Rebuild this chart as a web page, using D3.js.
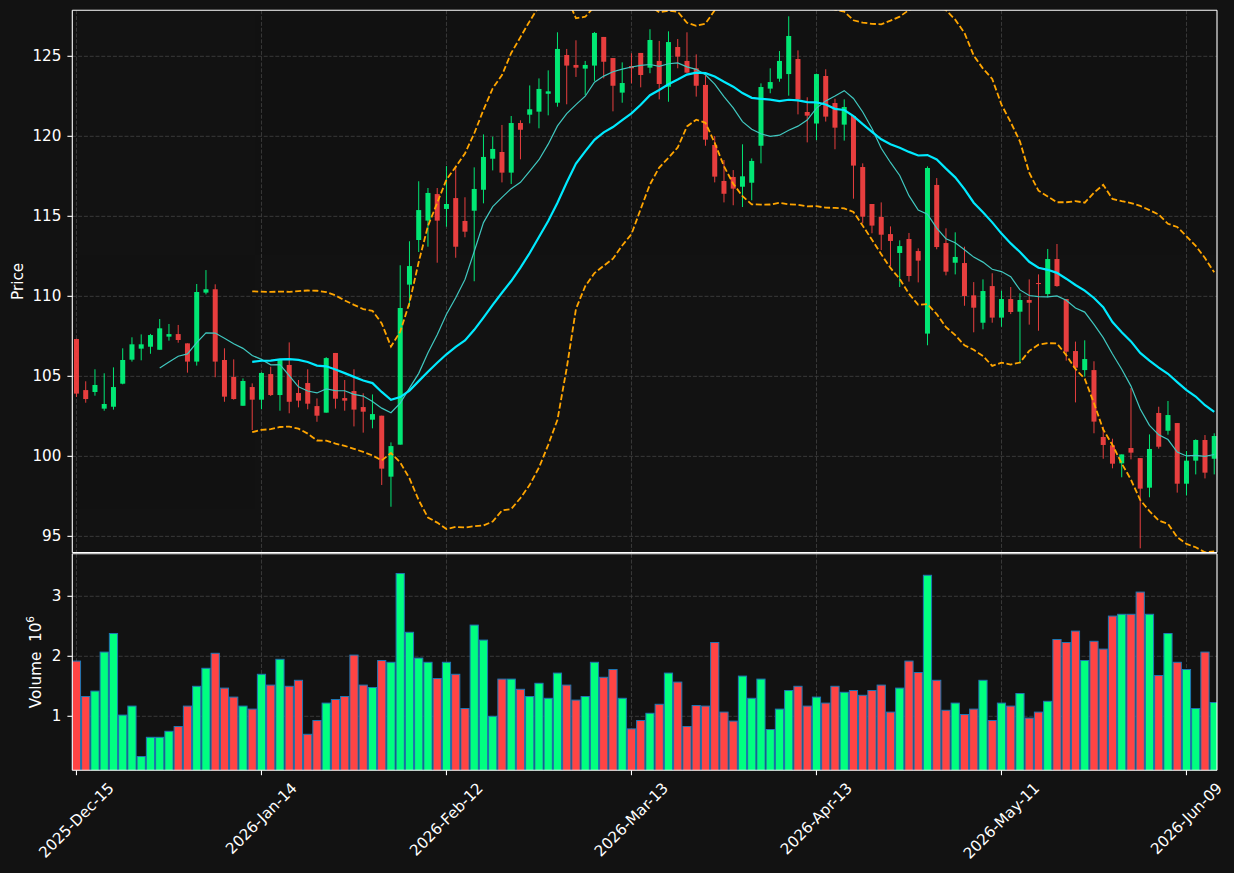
<!DOCTYPE html>
<html><head><meta charset="utf-8">
<script src="https://cdn.jsdelivr.net/npm/d3@7"></script>
<style>
html,body{margin:0;padding:0;background:#121212;overflow:hidden;}
svg{display:block;}
text{font-family:"DejaVu Sans",sans-serif;fill:#ffffff;white-space:pre;}
</style></head><body>
<svg id="chart" width="1234" height="873"></svg>
<script>
// ---- data ----
const openP = [107.33,104.14,104.02,102.98,103.10,104.54,106.04,106.73,106.85,106.66,107.48,107.64,107.06,105.92,110.23,110.44,106.02,104.96,103.16,104.33,
103.54,105.14,103.83,105.71,103.96,104.58,103.14,102.73,106.46,103.64,104.08,103.08,102.29,102.54,98.73,100.73,110.73,113.52,114.73,116.39,
115.46,116.14,114.71,115.35,116.66,118.60,119.02,117.73,120.83,121.35,121.54,122.66,122.10,125.08,124.46,124.23,124.42,126.21,124.89,122.73,
124.39,125.21,124.29,124.71,123.10,125.58,124.71,124.25,123.21,119.46,117.21,117.46,116.85,117.10,119.41,122.98,123.60,123.89,124.83,121.52,
120.80,123.77,122.08,120.73,121.27,118.08,115.77,114.96,113.89,112.71,113.58,112.83,107.67,116.96,113.33,112.10,112.08,110.06,108.35,110.64,
108.67,109.83,109.04,109.77,110.83,110.14,112.33,109.83,106.58,105.39,105.39,101.21,100.69,99.56,100.52,99.89,98.04,102.71,101.60,102.08,
98.29,99.73,101.02,99.85];
const highP = [107.35,104.69,105.44,105.19,105.56,106.75,107.44,107.62,107.65,108.58,108.27,108.21,107.06,110.77,111.64,110.75,106.75,106.06,104.87,104.56,
105.25,105.60,106.02,107.12,104.77,105.44,103.62,106.20,106.46,104.77,105.44,103.94,103.87,102.54,100.87,111.94,113.44,117.19,116.77,116.77,
118.14,118.16,116.19,118.06,120.12,119.98,120.71,121.27,121.00,123.18,123.62,124.12,126.50,125.46,126.00,124.71,126.52,126.21,124.89,124.62,
125.19,125.21,126.69,125.96,126.56,126.08,126.50,125.12,123.79,120.02,118.52,117.89,119.50,118.62,123.31,124.25,125.33,127.50,125.37,122.44,
123.92,124.19,122.35,122.31,121.27,118.31,115.77,115.87,114.37,113.50,113.96,113.00,118.12,117.39,114.25,114.00,113.10,110.89,111.06,111.44,
110.35,110.58,110.19,111.06,111.37,112.96,113.27,109.83,107.17,107.25,105.94,101.85,101.10,100.12,104.27,99.89,101.37,103.10,103.46,102.08,
100.33,101.06,101.33,101.44];
const lowP = [103.71,103.35,103.79,102.85,102.92,104.50,105.92,106.00,106.41,106.66,107.23,107.10,105.23,105.67,110.12,104.94,103.41,103.54,103.16,101.64,
102.94,103.77,102.85,102.69,103.06,102.94,102.16,102.73,102.98,102.85,101.87,101.48,101.75,98.21,96.85,100.73,109.35,112.77,113.10,112.10,
114.35,112.41,113.69,110.94,115.81,117.87,117.12,117.02,118.56,120.81,120.50,121.31,121.85,122.00,123.71,122.58,123.46,123.62,121.56,122.10,
123.31,123.06,123.94,122.31,122.16,124.25,123.94,122.48,119.41,117.12,115.87,115.69,115.58,116.00,118.31,122.69,123.41,122.54,121.37,119.62,
119.76,120.92,119.19,119.73,116.10,114.56,113.94,112.89,111.89,110.58,110.92,110.87,106.94,112.94,111.31,111.37,109.41,107.75,107.94,108.35,
108.10,108.89,105.81,108.23,107.85,109.94,110.60,105.98,103.37,104.99,101.44,99.85,99.25,98.69,99.81,94.25,97.44,100.48,101.35,97.73,
97.56,98.87,98.62,98.87];
const closeP = [103.92,103.58,104.46,103.27,104.33,106.02,107.00,107.00,107.58,108.00,107.64,107.27,105.92,110.27,110.44,105.92,103.73,103.58,104.71,103.54,
105.21,103.83,106.02,103.41,103.48,103.29,102.54,106.14,103.60,103.48,102.92,102.79,102.64,99.23,100.64,109.27,111.89,115.39,116.46,114.73,
115.77,113.10,114.04,116.71,118.71,119.21,117.73,120.83,120.41,121.69,122.96,122.81,125.46,124.42,124.29,124.46,126.46,124.66,123.16,123.33,
124.25,123.83,126.02,123.27,125.89,124.98,123.98,123.16,119.79,117.48,116.41,116.73,117.50,118.46,123.08,123.39,124.71,126.27,122.31,121.29,
123.89,121.23,120.54,121.83,118.17,114.98,114.42,113.85,113.46,113.14,111.27,112.23,118.02,113.08,111.54,112.46,110.02,109.29,110.33,108.67,
109.83,109.02,109.77,109.60,110.79,112.33,110.64,106.54,105.54,106.08,102.17,100.71,99.54,100.12,100.23,97.98,100.46,100.60,102.58,98.29,
99.73,101.02,98.98,101.27];
// volume in millions
const volume = [1.92,1.33,1.42,2.07,2.38,1.02,1.17,0.33,0.65,0.65,0.75,0.83,1.17,1.50,1.80,2.05,1.47,1.32,1.17,1.12,
1.70,1.52,1.95,1.50,1.60,0.70,0.93,1.22,1.28,1.33,2.02,1.52,1.48,1.93,1.90,3.38,2.40,1.97,1.90,1.63,
1.90,1.70,1.13,2.52,2.27,1.00,1.62,1.62,1.45,1.33,1.55,1.30,1.72,1.52,1.27,1.33,1.90,1.65,1.78,1.30,
0.79,0.93,1.05,1.20,1.72,1.57,0.83,1.18,1.17,2.23,1.07,0.92,1.67,1.30,1.62,0.78,1.12,1.43,1.50,1.17,
1.32,1.22,1.50,1.40,1.43,1.35,1.43,1.52,1.07,1.47,1.92,1.73,3.35,1.60,1.10,1.22,1.03,1.12,1.60,0.93,
1.22,1.17,1.38,0.97,1.07,1.25,2.28,2.23,2.42,1.93,2.25,2.12,2.67,2.70,2.70,3.07,2.70,1.68,2.38,1.90,
1.78,1.13,2.07,1.23];
const tickIndex = [0,20,40,60,80,100,120];
const tickLabels = ["2025-Dec-15","2026-Jan-14","2026-Feb-12","2026-Mar-13","2026-Apr-13","2026-May-11","2026-Jun-09"];
const priceTicks = [95,100,105,110,115,120,125];
const volumeTicks = [1,2,3];
const maShort = 10, maLong = 20, bbMult = 2;

// ---- layout ----
const W = 1234, H = 873;
const L = 72.3, R = 1217;
const pTop = 10.3, pBot = 552.5, vTop = 553.8, vBot = 770.3;
const UP = "#00ff80", DOWN = "#ff4444";
const FS = 15.2;

const svg = d3.select("#chart");
svg.append("rect").attr("width", W).attr("height", H).attr("fill", "#121212");

const n = closeP.length;
const x = d3.scaleLinear().domain([-0.45, 123.3]).range([L, R]);
const yP = d3.scaleLinear().domain([93.99, 127.875]).range([pBot, pTop]);
const yV = d3.scaleLinear().domain([0.1, 3.708]).range([vBot, vTop]);

const defs = svg.append("defs");
defs.append("clipPath").attr("id", "clipP").append("rect").attr("x", L).attr("y", pTop).attr("width", R - L).attr("height", pBot - pTop);
defs.append("clipPath").attr("id", "clipV").append("rect").attr("x", L).attr("y", vTop).attr("width", R - L).attr("height", vBot - vTop);

const gridColor = "#3a3a3a";
const gridDash = "4,1.8";
// grids
const gP = svg.append("g").attr("clip-path", "url(#clipP)");
const gV = svg.append("g").attr("clip-path", "url(#clipV)");
[gP, gV].forEach((g, k) => {
  const t = k === 0 ? pTop : vTop, b = k === 0 ? pBot : vBot;
  g.selectAll("line.vg").data(tickIndex).enter().append("line")
    .attr("x1", d => x(d)).attr("x2", d => x(d)).attr("y1", t).attr("y2", b)
    .attr("stroke", gridColor).attr("stroke-width", 1).attr("stroke-dasharray", gridDash);
});
gP.selectAll("line.hg").data(priceTicks).enter().append("line")
  .attr("x1", L).attr("x2", R).attr("y1", d => yP(d)).attr("y2", d => yP(d))
  .attr("stroke", gridColor).attr("stroke-width", 1).attr("stroke-dasharray", gridDash);
gV.selectAll("line.hg").data(volumeTicks).enter().append("line")
  .attr("x1", L).attr("x2", R).attr("y1", d => yV(d)).attr("y2", d => yV(d))
  .attr("stroke", gridColor).attr("stroke-width", 1).attr("stroke-dasharray", gridDash);

const idx = d3.range(n);
const isUp = i => closeP[i] >= openP[i];

// volume bars
const bw = 8.2;
gV.selectAll("rect.vol").data(idx).enter().append("rect")
  .attr("x", i => x(i) - bw / 2).attr("width", bw)
  .attr("y", i => yV(volume[i])).attr("height", i => yV(0) - yV(volume[i]))
  .attr("fill", i => isUp(i) ? UP : DOWN)
  .attr("stroke", "#1f77b4").attr("stroke-width", 1);

// candles
const cg = gP.append("g").attr("opacity", 0.9);
cg.selectAll("line.wick").data(idx).enter().append("line")
  .attr("x1", i => x(i)).attr("x2", i => x(i))
  .attr("y1", i => yP(highP[i])).attr("y2", i => yP(lowP[i]))
  .attr("stroke", i => isUp(i) ? UP : DOWN).attr("stroke-width", 1);
const cw = 5;
cg.selectAll("rect.body").data(idx).enter().append("rect")
  .attr("x", i => x(i) - cw / 2).attr("width", cw)
  .attr("y", i => yP(Math.max(openP[i], closeP[i])))
  .attr("height", i => Math.max(1, Math.abs(yP(openP[i]) - yP(closeP[i]))))
  .attr("fill", i => isUp(i) ? UP : DOWN);

// indicators derived from the closes
function sma(arr, p) { return arr.map((v, i) => i < p - 1 ? null : d3.mean(arr.slice(i - p + 1, i + 1))); }
function rstd(arr, p) { return arr.map((v, i) => i < p - 1 ? null : d3.deviation(arr.slice(i - p + 1, i + 1))); }
const ma10 = sma(closeP, maShort);
const ma20 = sma(closeP, maLong);
const sd20 = rstd(closeP, maLong);
const upper = ma20.map((m, i) => m === null ? null : m + bbMult * sd20[i]);
const lower = ma20.map((m, i) => m === null ? null : m - bbMult * sd20[i]);

const line = arr => d3.line().defined(i => arr[i] !== null).x(i => x(i)).y(i => yP(arr[i]))(idx);
gP.append("path").attr("d", line(upper)).attr("fill", "none").attr("stroke", "#ffa500").attr("stroke-width", 1.8).attr("stroke-dasharray", "6,2.6");
gP.append("path").attr("d", line(lower)).attr("fill", "none").attr("stroke", "#ffa500").attr("stroke-width", 1.8).attr("stroke-dasharray", "6,2.6");
gP.append("path").attr("d", line(ma10)).attr("fill", "none").attr("stroke", "#40c8c0").attr("stroke-width", 1.2);
gP.append("path").attr("d", line(ma20)).attr("fill", "none").attr("stroke", "#00eaff").attr("stroke-width", 2.2);

// spines
const spine = (x1, y1, x2, y2) => svg.append("line").attr("x1", x1).attr("y1", y1).attr("x2", x2).attr("y2", y2).attr("stroke", "#ffffff").attr("stroke-width", 1.1);
[[pTop, pBot], [vTop, vBot]].forEach(([t, b]) => {
  spine(L, t, R, t); spine(L, b, R, b); spine(L, t, L, b); spine(R, t, R, b);
});

// y ticks
const tl = 4.9;
priceTicks.forEach(v => {
  spine(L - tl, yP(v), L, yP(v));
  svg.append("text").attr("x", L - tl - 6).attr("y", yP(v)).attr("text-anchor", "end")
    .attr("dominant-baseline", "central").attr("font-size", FS).text(v);
});
volumeTicks.forEach(v => {
  spine(L - tl, yV(v), L, yV(v));
  svg.append("text").attr("x", L - tl - 6).attr("y", yV(v)).attr("text-anchor", "end")
    .attr("dominant-baseline", "central").attr("font-size", FS).text(v);
});

// x ticks + rotated labels
const svgRect = svg.node().getBoundingClientRect();
tickIndex.forEach((t, k) => {
  spine(x(t), vBot, x(t), vBot + tl);
  const g = svg.append("g");
  const txt = g.append("text").attr("font-size", FS).attr("text-anchor", "end")
    .attr("transform", "rotate(-45)").text(tickLabels[k]);
  const bb = txt.node().getBoundingClientRect();
  const cx = (bb.left + bb.right) / 2 - svgRect.left;
  const top = bb.top - svgRect.top;
  g.attr("transform", `translate(${x(t) - cx},${vBot + tl + 4 - top})`);
});

// axis labels
svg.append("text").attr("transform", `translate(18,${(pTop + pBot) / 2}) rotate(-90)`)
  .attr("text-anchor", "middle").attr("dominant-baseline", "central").attr("font-size", FS).text("Price");
const vl = svg.append("text").attr("transform", `translate(35.5,${(vTop + vBot) / 2}) rotate(-90)`)
  .attr("text-anchor", "middle").attr("dominant-baseline", "central").attr("font-size", FS);
vl.append("tspan").text("Volume  10");
vl.append("tspan").attr("dy", -6).attr("font-size", FS * 0.7).text("6");
</script>
</body></html>
